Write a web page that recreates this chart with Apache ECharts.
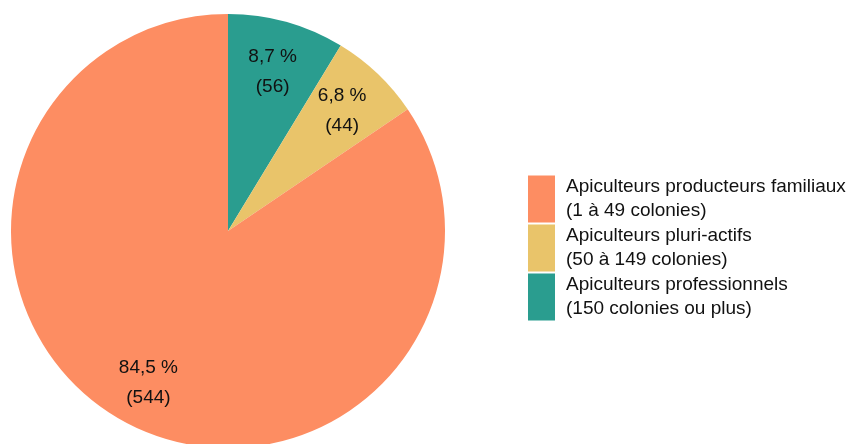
<!DOCTYPE html>
<html><head><meta charset="utf-8">
<script src="https://cdn.jsdelivr.net/npm/echarts@6/dist/echarts.min.js"></script>
<style>html,body{margin:0;padding:0;background:#fff}#c{width:864px;height:444px}</style>
</head><body><div id="c"></div>
<script>
const categories = [
  'Apiculteurs professionnels\n(150 colonies ou plus)',
  'Apiculteurs pluri-actifs\n(50 à 149 colonies)',
  'Apiculteurs producteurs familiaux\n(1 à 49 colonies)'
];
const values = [56, 44, 544];
const colors = ['#2A9D8F', '#E9C46A', '#FD8D62'];
const legendOrder = [categories[2], categories[1], categories[0]];

const total = values.reduce((a, b) => a + b, 0);
const data = categories.map((n, i) => ({ name: n, value: values[i], itemStyle: { color: colors[i] } }));
const font = 'Liberation Sans, Arial, sans-serif';
const center = [228, 231];

const chart = echarts.init(document.getElementById('c'));
chart.setOption({
  animation: false,
  legend: {
    orient: 'vertical', left: 528, top: 175, padding: 0,
    data: legendOrder,
    icon: 'rect', itemWidth: 27, itemHeight: 47, itemGap: 1,
    textStyle: { fontFamily: font, fontSize: 19, color: '#111', lineHeight: 24, padding: [3, 0, -3, 6] }
  },
  series: [
    {
      type: 'pie', center: center, radius: [0, 217], startAngle: 90, clockwise: true,
      data: data, label: { show: false }, labelLine: { show: false },
      itemStyle: { borderWidth: 0 }, emphasis: { disabled: true }
    },
    {
      type: 'pie', center: center, radius: [108, 217], startAngle: 90, clockwise: true,
      silent: true, legendHoverLink: false,
      data: categories.map((n, i) => ({
        name: n + ' ', value: values[i], itemStyle: { color: 'rgba(0,0,0,0)' },
        label: i === 2 ? { offset: [-2, 6] } : {}
      })),
      label: {
        show: true, position: 'inside', fontFamily: font, fontSize: 19, color: '#111', lineHeight: 30,
        formatter: p => (p.value / total * 100).toFixed(1).replace('.', ',') + ' %\n(' + p.value + ')'
      },
      labelLine: { show: false }, emphasis: { disabled: true }
    }
  ]
});
</script></body></html>
